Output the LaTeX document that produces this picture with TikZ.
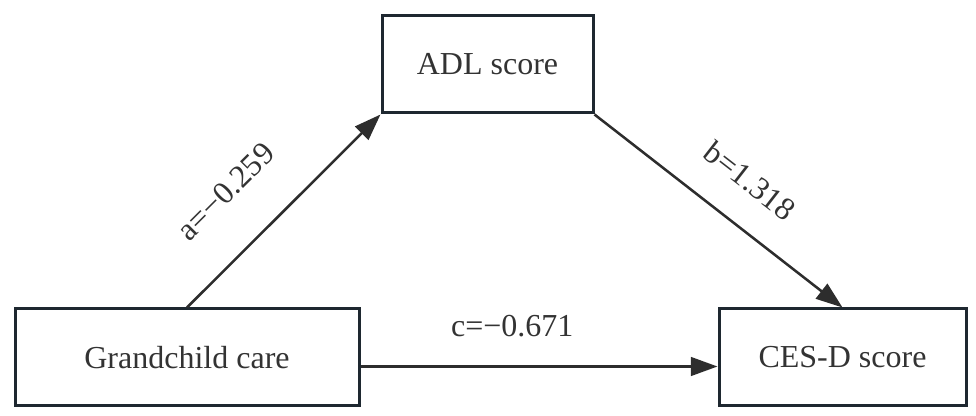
\documentclass[tikz,border=0pt]{standalone}
\usepackage{fontspec}
\setmainfont{Liberation Serif}
\usetikzlibrary{arrows.meta}
\definecolor{boxline}{RGB}{30,40,48}
\definecolor{arrline}{RGB}{45,45,45}
\tikzset{
  var/.style={draw=boxline, line width=2.25pt, minimum height=72.75pt,
    inner sep=0pt, text=black!80, font=\fontsize{24}{28}\selectfont},
  path/.style={draw=arrline, line width=1.9pt,
    -{Triangle[length=20pt,width=14pt]}},
  coef/.style={text=black!80, font=\fontsize{24}{28}\selectfont, inner sep=0pt}
}
\begin{document}
\begin{tikzpicture}[x=0.75pt,y=-0.75pt]
  \useasboundingbox (0,0) rectangle (976,416);
  \node[var, minimum width=158.25pt] (adl) at (487.5,64.5) {ADL score};
  \node[var, minimum width=258pt] (gc) at (187,357.5) {Grandchild care};
  \node[var, minimum width=185.25pt] (cesd) at (842.5,357.5) {CES-D score};

  \draw[path] (gc.north) -- (adl.south west)
    node[coef, pos=0.4, sloped, above=32pt] (la) {a=−0.259};
  \draw[path] (adl.south east) -- (cesd.north)
    node[coef, pos=0.52, sloped, above=23pt] (lb) {b=1.318};
  \draw[path] ([yshift=-6.75pt]gc.east) -- ([yshift=-6.75pt]cesd.west)
    node[coef, pos=0.425, above=21pt] (lc) {c=−0.671};
\end{tikzpicture}
\end{document}
